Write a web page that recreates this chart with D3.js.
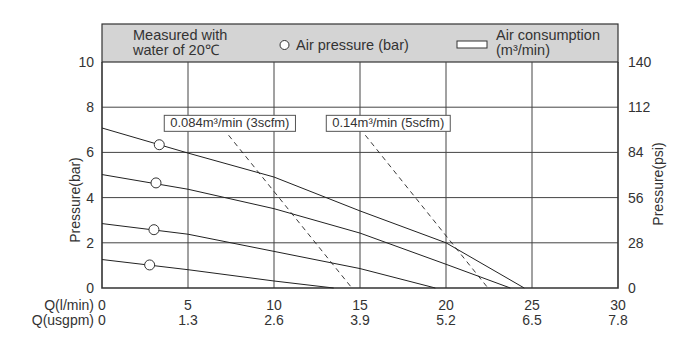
<!DOCTYPE html>
<html><head><meta charset="utf-8">
<script src="https://cdn.jsdelivr.net/npm/d3@7"></script>
<style>
html,body{margin:0;padding:0;background:#fff;}
svg text{font-family:"Liberation Sans",Arial,sans-serif;fill:#333;}
</style></head>
<body><svg id="c" width="700" height="350"></svg>
<script>
const qTicks = [0,5,10,15,20,25,30];
const usgpmTicks = ["0","1.3","2.6","3.9","5.2","6.5","7.8"];
const barTicks = [0,2,4,6,8,10];
const psiTicks = [0,28,56,84,112,140];
const curve1 = [[0,7.08],[5,5.97],[10,4.91],[15,3.41],[20,2.0],[24.55,0]];
const curve2 = [[0,5.02],[5,4.37],[10,3.51],[15,2.43],[20,1.05],[23.74,0]];
const curve3 = [[0,2.85],[5,2.38],[10,1.62],[15,0.86],[19.38,0]];
const curve4 = [[0,1.26],[5,0.81],[10,0.31],[13.47,0]];
const markers = [[3.33,6.34],[3.14,4.65],[3.02,2.58],[2.77,1.02]];
const airLine1 = [[7.36,6.76],[14.53,0]];
const airLine2 = [[15.31,6.76],[22.44,0]];
const airLabels = [["0.084m³/min (3scfm)",3.62,7.64],["0.14m³/min (5scfm)",13.04,7.64]];

const svg = d3.select("#c");
const x = d3.scaleLinear().domain([0,30]).range([102,618]);
const y = d3.scaleLinear().domain([0,10]).range([288,62]);
const yPsi = d3.scaleLinear().domain([0,140]).range([288,62]);
const ink = "#333";

// header
svg.append("rect").attr("x",x(0)).attr("y",24).attr("width",x(30)-x(0)).attr("height",y(10)-24)
  .attr("fill","#d4d4d4").attr("stroke",ink).attr("stroke-width",1.2);

// grid
svg.append("g").selectAll("line").data(qTicks.slice(1,-1)).join("line")
  .attr("x1",d=>x(d)).attr("x2",d=>x(d)).attr("y1",y(0)).attr("y2",y(10))
  .attr("stroke","#444").attr("stroke-width",1);
svg.append("g").selectAll("line").data(barTicks.slice(1,-1)).join("line")
  .attr("x1",x(0)).attr("x2",x(30)).attr("y1",d=>y(d)).attr("y2",d=>y(d))
  .attr("stroke","#444").attr("stroke-width",1);
// border
svg.append("path").attr("d",`M${x(0)},${y(10)}V${y(0)}H${x(30)}V${y(10)}`)
  .attr("fill","none").attr("stroke",ink).attr("stroke-width",1.6);

// axes labels (left)
svg.append("g").selectAll("text").data(barTicks).join("text")
  .attr("x",94).attr("y",d=>y(d)).attr("dy","0.36em").attr("text-anchor","end")
  .attr("font-size",14).text(d=>d);
svg.append("g").selectAll("text").data(psiTicks).join("text")
  .attr("x",628).attr("y",d=>yPsi(d)).attr("dy","0.36em").attr("text-anchor","start")
  .attr("font-size",14).text(d=>d);
svg.append("g").selectAll("text").data(qTicks).join("text")
  .attr("x",d=>x(d)).attr("y",310).attr("text-anchor","middle").attr("font-size",14).text(d=>d);
svg.append("g").selectAll("text").data(usgpmTicks).join("text")
  .attr("x",(d,i)=>x(qTicks[i])).attr("y",325).attr("text-anchor","middle").attr("font-size",14).text(d=>d);
svg.append("text").attr("x",94).attr("y",310).attr("text-anchor","end").attr("font-size",14).text("Q(l/min)");
svg.append("text").attr("x",94).attr("y",325).attr("text-anchor","end").attr("font-size",14).text("Q(usgpm)");
svg.append("text").attr("transform","translate(75,200) rotate(-90)").attr("dy","0.36em")
  .attr("text-anchor","middle").attr("font-size",14).text("Pressure(bar)");
svg.append("text").attr("transform","translate(658,184) rotate(-90)").attr("dy","0.36em")
  .attr("text-anchor","middle").attr("font-size",14).text("Pressure(psi)");

// curves
const line = d3.line().x(d=>x(d[0])).y(d=>y(d[1]));
[curve1,curve2,curve3,curve4].forEach(c=>{
  svg.append("path").attr("d",line(c)).attr("fill","none").attr("stroke","#222").attr("stroke-width",1);
});
[airLine1,airLine2].forEach(c=>{
  svg.append("path").attr("d",line(c)).attr("fill","none").attr("stroke","#222")
    .attr("stroke-width",0.9).attr("stroke-dasharray","5,4");
});
svg.append("g").selectAll("circle").data(markers).join("circle")
  .attr("cx",d=>x(d[0])).attr("cy",d=>y(d[1])).attr("r",5)
  .attr("fill","#fff").attr("stroke",ink).attr("stroke-width",1);

// air labels
airLabels.forEach(([t,q,p])=>{
  const g = svg.append("g");
  const r = g.append("rect");
  const tx = g.append("text").attr("x",x(q)+6).attr("y",y(p)+12).attr("font-size",13).text(t);
  const bb = tx.node().getBBox();
  r.attr("x",x(q)).attr("y",y(p)).attr("width",bb.width+12).attr("height",16)
    .attr("fill","#fff").attr("stroke","#555").attr("stroke-width",1);
});

// legend in header
svg.append("text").attr("x",133).attr("y",40).attr("font-size",14.5).text("Measured with");
svg.append("text").attr("x",133).attr("y",55).attr("font-size",14.5).text("water of 20℃");
svg.append("circle").attr("cx",284.5).attr("cy",45).attr("r",4.5).attr("fill","#fff").attr("stroke",ink).attr("stroke-width",1);
svg.append("text").attr("x",296).attr("y",50).attr("font-size",14.5).text("Air pressure (bar)");
svg.append("rect").attr("x",457).attr("y",41).attr("width",30).attr("height",7)
  .attr("fill","#fff").attr("stroke",ink).attr("stroke-width",1);
svg.append("text").attr("x",496).attr("y",40).attr("font-size",14.5).text("Air consumption");
svg.append("text").attr("x",496).attr("y",55).attr("font-size",14.5).text("(m³/min)");
</script></body></html>
